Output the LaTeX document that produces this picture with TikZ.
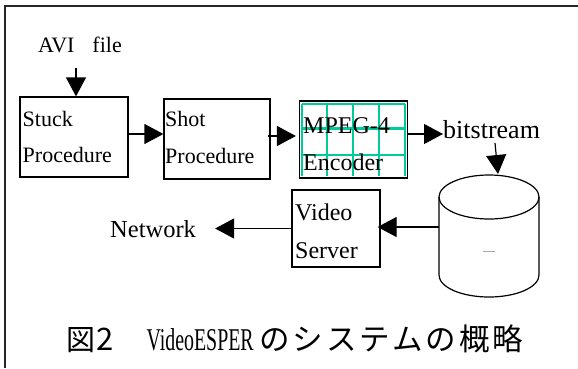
\documentclass[tikz,border=0pt]{standalone}
\usepackage{fontspec}
\usepackage{graphicx}
\setmainfont{Liberation Serif}
\newfontfamily\cjk{Noto Sans CJK JP}
\usetikzlibrary{arrows.meta}
\definecolor{gridgreen}{RGB}{0,204,153}
\newcommand\cjch[1]{\makebox[33.26pt]{#1}}
\tikzset{
  box/.style={draw, line width=1.2pt, inner sep=0pt},
  lbl/.style={anchor=base west, inner sep=0pt},
  arr/.style={line width=1.2pt, -{Triangle[length=19pt,width=20pt]}},
  gridline/.style={gridgreen, line width=2.4pt},
  frameline/.style={line width=2pt, black!85},
  fa/.style={font=\fontsize{22}{26}\selectfont},
  fb/.style={font=\fontsize{24}{28}\selectfont},
}
\begin{document}
\begin{tikzpicture}[x=1pt,y=-1pt]
\useasboundingbox (0,0) rectangle (578,368);
% frame
\draw[frameline] (5,368) -- (5,5.7) -- (578,5.7);

% AVI file
\node[lbl, fa] (avi) at (38,52) {AVI\hspace{18pt}file};
\coordinate (aviend) at (76,68);

% boxes
\node[box, minimum width=108pt, minimum height=80pt] (stuck) at (74,137) {};
\node[lbl, fa] (stuckA) at (22.5,126) {Stuck};
\node[lbl, fa] (stuckB) at (22.5,162.5) {Procedure};

\node[box, minimum width=106pt, minimum height=80pt] (shot) at (217,139) {};
\node[lbl, fa] (shotA) at (165,126) {Shot};
\node[lbl, fa] (shotB) at (165,163) {Procedure};

% MPEG-4 encoder with green grid
\foreach \gx in {302,327,353,379,405} \draw[gridline] (\gx,104) -- (\gx,176);
\foreach \gy in {104,128.5,155} \draw[gridline] (302,\gy) -- (405,\gy);
\node[box, minimum width=108pt, minimum height=77pt] (mpeg) at (353.5,139.5) {};
\node[lbl, fb] (mpegA) at (303,133.3) {MPEG-4};
\node[lbl, fb] (mpegB) at (303,170) {Encoder};

\node[lbl, font=\fontsize{26}{30}\selectfont] (bits) at (443,138) {bitstream};
\coordinate (bitsdn) at (495,143);

% database cylinder
\draw[line width=1.2pt] (489,197) ellipse [x radius=50, y radius=22];
\draw[line width=1.2pt] (439,197) -- (439,275) arc[start angle=180, end angle=0, x radius=50, y radius=22] -- (539,197);
\draw[black!35, line width=0.8pt] (483,251) -- (495,251);
\coordinate (dbtop) at (498,174);
\coordinate (dbleft) at (439,227);

% video server
\node[box, minimum width=88pt, minimum height=77pt] (video) at (336,228.5) {};
\node[lbl, fb] (videoA) at (295,220.5) {Video};
\node[lbl, fb] (videoB) at (295,258.3) {Server};

\node[lbl, font=\fontsize{24.5}{28}\selectfont] (net) at (110,237.5) {Network};

% connectors
\draw[arr] (aviend) -- (aviend |- stuck.north);
\draw[arr] ([yshift=3pt]stuck.east) coordinate (s1) -- (s1 -| shot.west);
\draw[arr, shorten >=3pt] ([xshift=-3pt,yshift=3pt]shot.east) coordinate (s2) -- (s2 -| mpeg.west);
\draw[arr] ([yshift=5.5pt]mpeg.east) coordinate (s3) -- (s3 -| bits.west);
\draw[arr] (bitsdn) -- (dbtop);
\draw[arr, shorten >=-3pt] (dbleft) -- (dbleft -| video.east);
\draw[arr] (video.west) -- ([xshift=19pt]net.east |- video.west);

% caption
\node[anchor=base, inner sep=0pt, font=\cjk\fontsize{29}{32}\selectfont] (capA) at (81.2,350) {図};
\node[anchor=base, inner sep=0pt, font=\cjk\fontsize{31}{33}\selectfont] (capB) at (105.3,350) {2};
\node[lbl, font=\fontsize{31.7}{34}\selectfont] (capC) at (146.5,350) {\scalebox{0.627}[1]{VideoESPER}};
\node[lbl, font=\cjk\fontsize{30.5}{33}\selectfont] (capD) at (258.1,350) {\cjch{の}\cjch{シ}\cjch{ス}\cjch{テ}\cjch{ム}\cjch{の}\cjch{概}\cjch{略}};
\end{tikzpicture}
\end{document}
